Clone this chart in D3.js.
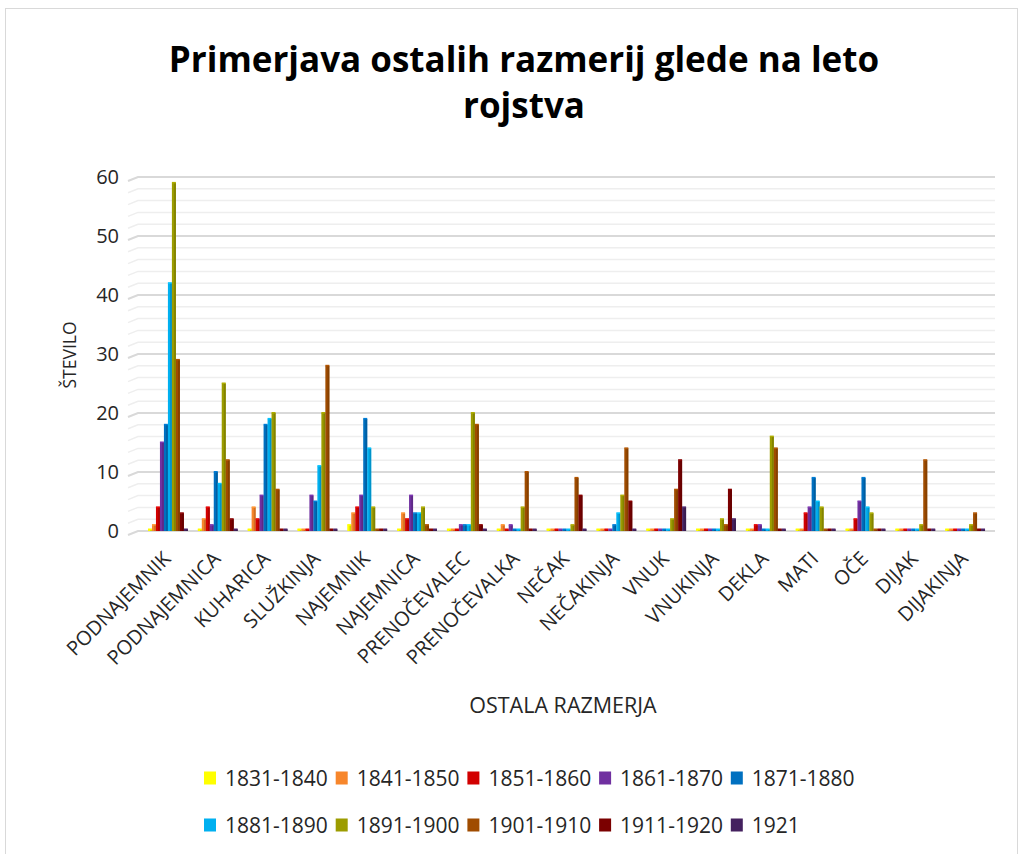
<!DOCTYPE html>
<html>
<head>
<meta charset="utf-8">
<script src="https://cdn.jsdelivr.net/npm/d3@7"></script>
<style>
  body { margin: 0; background: #fff; }
  text { font-family: "Open Sans", "Noto Sans", sans-serif; fill: #262626; }
</style>
</head>
<body>
<div id="chart"></div>
<script>
const categories = ['PODNAJEMNIK', 'PODNAJEMNICA', 'KUHARICA', 'SLUŽKINJA', 'NAJEMNIK', 'NAJEMNICA',
  'PRENOČEVALEC', 'PRENOČEVALKA', 'NEČAK', 'NEČAKINJA', 'VNUK', 'VNUKINJA', 'DEKLA', 'MATI', 'OČE',
  'DIJAK', 'DIJAKINJA']

const seriesNames = ['1831-1840', '1841-1850', '1851-1860', '1861-1870', '1871-1880',
  '1881-1890', '1891-1900', '1901-1910', '1911-1920', '1921']

const seriesColors = ['#FFFF00', '#F7862B', '#D20000', '#7030A0', '#0070C0',
  '#00B0F0', '#9C9C00', '#A04C00', '#7B0000', '#44215F']

// one row per category, one value per series
const values = [
  [0, 1, 4, 15, 18, 42, 59, 29, 3, 0],
  [0, 2, 4, 1, 10, 8, 25, 12, 2, 0],
  [0, 4, 2, 6, 18, 19, 20, 7, 0, 0],
  [0, 0, 0, 6, 5, 11, 20, 28, 0, 0],
  [1, 3, 4, 6, 19, 14, 4, 0, 0, 0],
  [0, 3, 2, 6, 3, 3, 4, 1, 0, 0],
  [0, 0, 0, 1, 1, 1, 20, 18, 1, 0],
  [0, 1, 0, 1, 0, 0, 4, 10, 0, 0],
  [0, 0, 0, 0, 0, 0, 1, 9, 6, 0],
  [0, 0, 0, 0, 1, 3, 6, 14, 5, 0],
  [0, 0, 0, 0, 0, 0, 2, 7, 12, 4],
  [0, 0, 0, 0, 0, 0, 2, 1, 7, 2],
  [0, 0, 1, 1, 0, 0, 16, 14, 0, 0],
  [0, 0, 3, 4, 9, 5, 4, 0, 0, 0],
  [0, 0, 2, 5, 9, 4, 3, 0, 0, 0],
  [0, 0, 0, 0, 0, 0, 1, 12, 0, 0],
  [0, 0, 0, 0, 0, 0, 1, 3, 0, 0]
]

const yTicks = [0, 10, 20, 30, 40, 50, 60]

const width = 1024
const height = 854

const svg = d3.select('#chart')
  .append('svg')
  .attr('width', width)
  .attr('height', height)

// outer frame
svg.append('rect')
  .attr('x', 5.5).attr('y', 8.5)
  .attr('width', 1012).attr('height', 850)
  .attr('fill', '#fff')
  .attr('stroke', '#d9d9d9')

// title
const titleLines = ['Primerjava ostalih razmerij glede na leto', 'rojstva']
svg.append('g')
  .selectAll('text')
  .data(titleLines)
  .join('text')
  .attr('x', 524)
  .attr('y', (d, i) => 72 + i * 46)
  .attr('text-anchor', 'middle')
  .attr('font-size', 35)
  .attr('font-weight', 'bold')
  .style('fill', '#000')
  .text(d => d)

const x = d3.scaleBand()
  .domain(categories)
  .range([143, 990])
  .paddingInner(0.2)
  .paddingOuter(0.1)

const xInner = d3.scaleBand()
  .domain(seriesNames)
  .range([0, x.bandwidth()])

const y = d3.scaleLinear()
  .domain([0, 60])
  .range([531, 177])

// gridlines: minor every 2, major every 10 (small slanted start like the 3D wall)
const gridPath = v => `M128,${y(v) + 4}L138,${y(v)}H995`
const grid = svg.append('g').attr('fill', 'none')
grid.selectAll('path.minor')
  .data(d3.range(0, 61, 2).filter(d => d % 10 !== 0))
  .join('path')
  .attr('class', 'minor')
  .attr('d', gridPath)
  .attr('stroke', '#eeeeee')
  .attr('stroke-width', 1.5)
grid.selectAll('path.major')
  .data(yTicks)
  .join('path')
  .attr('class', 'major')
  .attr('d', gridPath)
  .attr('stroke', '#d9d9d9')
  .attr('stroke-width', 2)

// y axis labels
svg.append('g')
  .selectAll('text')
  .data(yTicks)
  .join('text')
  .attr('x', 119)
  .attr('y', d => y(d) + 7)
  .attr('text-anchor', 'end')
  .attr('font-size', 20)
  .text(d => d)

svg.append('text')
  .attr('transform', 'translate(76,355) rotate(-90)')
  .attr('text-anchor', 'middle')
  .attr('font-size', 17.5)
  .text('ŠTEVILO')

// bars
const groups = svg.append('g')
  .selectAll('g')
  .data(categories)
  .join('g')
  .attr('transform', d => `translate(${x(d)},0)`)

groups.selectAll('g.bar')
  .data((d, i) => values[i].map((v, j) => ({ v, s: seriesNames[j], c: seriesColors[j] })))
  .join('g')
  .attr('class', 'bar')
  .each(function (d) {
    const g = d3.select(this)
    const bw = xInner.bandwidth()
    const top = Math.min(y(d.v), y(0) - 1.5)
    g.append('rect')
      .attr('x', xInner(d.s))
      .attr('y', top)
      .attr('width', bw)
      .attr('height', y(0) - top)
      .attr('fill', d.c)
    g.append('rect')
      .attr('x', xInner(d.s) + bw * 0.55)
      .attr('y', top)
      .attr('width', bw * 0.45)
      .attr('height', y(0) - top)
      .attr('fill', d3.color(d.c).darker(0.5))
    g.append('rect')
      .attr('x', xInner(d.s))
      .attr('y', top - 1)
      .attr('width', bw)
      .attr('height', 1.5)
      .attr('fill', d3.color(d.c).brighter(0.3))
  })

// x axis labels
svg.append('g')
  .selectAll('text')
  .data(categories)
  .join('text')
  .attr('transform', d => `translate(${x(d) + x.bandwidth() / 2 + 4},560) rotate(-45)`)
  .attr('text-anchor', 'end')
  .attr('font-size', 20)
  .text(d => d)

svg.append('text')
  .attr('x', 563).attr('y', 713)
  .attr('text-anchor', 'middle')
  .attr('font-size', 21.5)
  .text('OSTALA RAZMERJA')

// legend
const legendRows = [seriesNames.slice(0, 5), seriesNames.slice(5)]
legendRows.forEach((row, r) => {
  const lg = svg.append('g')
    .attr('transform', `translate(204,${778 + r * 47})`)
  const item = lg.selectAll('g')
    .data(row)
    .join('g')
    .attr('transform', (d, i) => `translate(${i * 131.7},0)`)
  item.append('rect')
    .attr('x', 0).attr('y', -6.5)
    .attr('width', 12).attr('height', 13)
    .attr('fill', d => seriesColors[seriesNames.indexOf(d)])
  item.append('text')
    .attr('x', 21).attr('y', 7.5)
    .attr('font-size', 21)
    .text(d => d)
})
</script>
</body>
</html>
